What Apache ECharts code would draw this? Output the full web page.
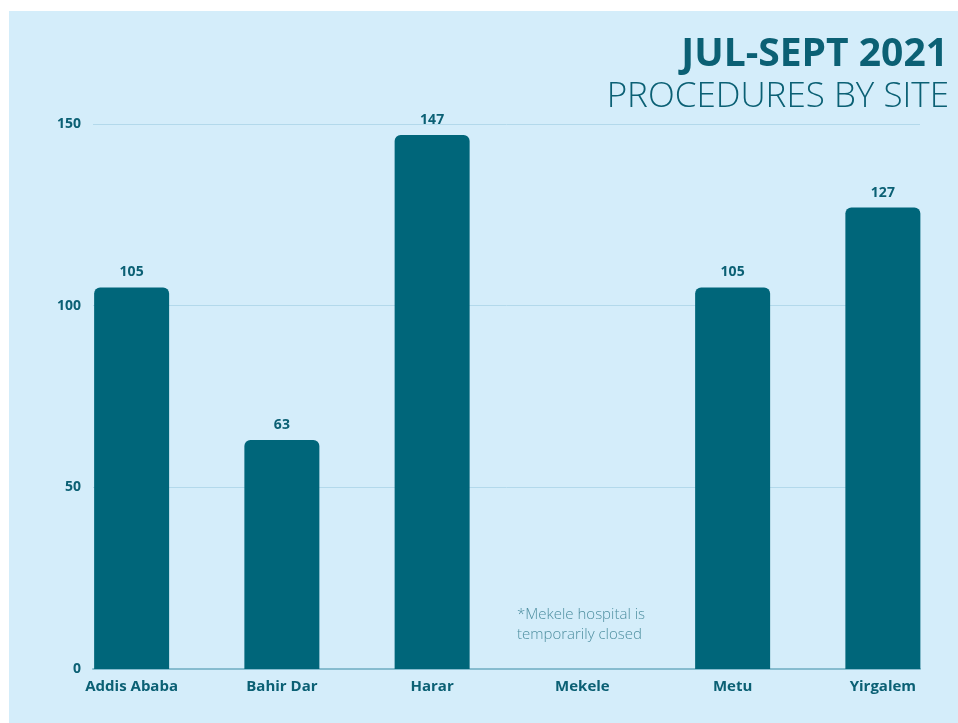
<!DOCTYPE html>
<html>
<head>
<meta charset="utf-8">
<script src="https://cdn.jsdelivr.net/npm/echarts@6/dist/echarts.min.js"></script>
<style>
    html, body { margin: 0; padding: 0; background: #ffffff; }
    #chart { position: absolute; left: 9px; top: 11px; width: 949px; height: 712px; }
</style>
</head>
<body>
<div id="chart"></div>
<script>
// datos del gráfico
const sites = ["Addis Ababa", "Bahir Dar", "Harar", "Mekele", "Metu", "Yirgalem"];
const procedures = [105, 63, 147, null, 105, 127];
const yTicks = [0, 50, 100, 150];

const titleMain = "JUL-SEPT 2021";
const titleSub = "PROCEDURES BY SITE";
const noteText = "*Mekele hospital is\ntemporarily closed";

const teal = "#00667a";
const textTeal = "#0b6074";

let myChart = echarts.init(document.getElementById("chart"));

let option = {
    backgroundColor: "#d4edfa",
    title: [
        {
            text: titleMain,
            right: 5,
            top: 19,
            textStyle: { fontFamily: "Open Sans", fontWeight: "bold", fontSize: 39, color: textTeal }
        },
        {
            text: titleSub,
            right: 4,
            top: 64,
            textStyle: { fontFamily: "Open Sans", fontWeight: 300, fontSize: 35, color: textTeal }
        },
        {
            text: noteText,
            left: 503,
            top: 589,
            textStyle: { fontFamily: "Open Sans", fontWeight: 300, fontSize: 15, lineHeight: 20, color: "#4e8fa0" }
        }
    ],
    grid: [
        // barras
        { left: 47.5, right: 0, top: 113, bottom: 54 },
        // líneas y eje
        { left: 84, right: 38, top: 113, bottom: 54 }
    ],
    xAxis: [
        {
            type: "category",
            gridIndex: 0,
            data: sites,
            axisLine: { show: false },
            axisTick: { show: false },
            axisLabel: {
                margin: 10,
                fontFamily: "Open Sans",
                fontWeight: "bold",
                fontSize: 15,
                color: textTeal
            }
        },
        {
            type: "value",
            gridIndex: 1,
            min: 0,
            max: 1,
            axisLine: { show: true, lineStyle: { color: "#86bccf", width: 2 } },
            axisTick: { show: false },
            axisLabel: { show: false },
            splitLine: { show: false }
        }
    ],
    yAxis: [
        {
            type: "value",
            gridIndex: 0,
            min: yTicks[0],
            max: yTicks[yTicks.length - 1],
            show: false
        },
        {
            type: "value",
            gridIndex: 1,
            min: yTicks[0],
            max: yTicks[yTicks.length - 1],
            interval: 50,
            axisLine: { show: false },
            axisTick: { show: false },
            axisLabel: {
                margin: 12,
                fontFamily: "Open Sans",
                fontWeight: "bold",
                fontSize: 14,
                color: textTeal
            },
            splitLine: { lineStyle: { color: "#b3d9eb", width: 1 } }
        }
    ],
    series: [
        {
            name: "Procedures",
            type: "bar",
            xAxisIndex: 0,
            yAxisIndex: 0,
            barWidth: 75,
            data: procedures,
            z: 3,
            itemStyle: { color: teal, borderRadius: [6, 6, 0, 0] },
            label: {
                show: true,
                position: "top",
                distance: 8,
                fontFamily: "Open Sans",
                fontWeight: "bold",
                fontSize: 14,
                color: textTeal
            }
        }
    ]
};

myChart.setOption(option);
</script>
</body>
</html>
